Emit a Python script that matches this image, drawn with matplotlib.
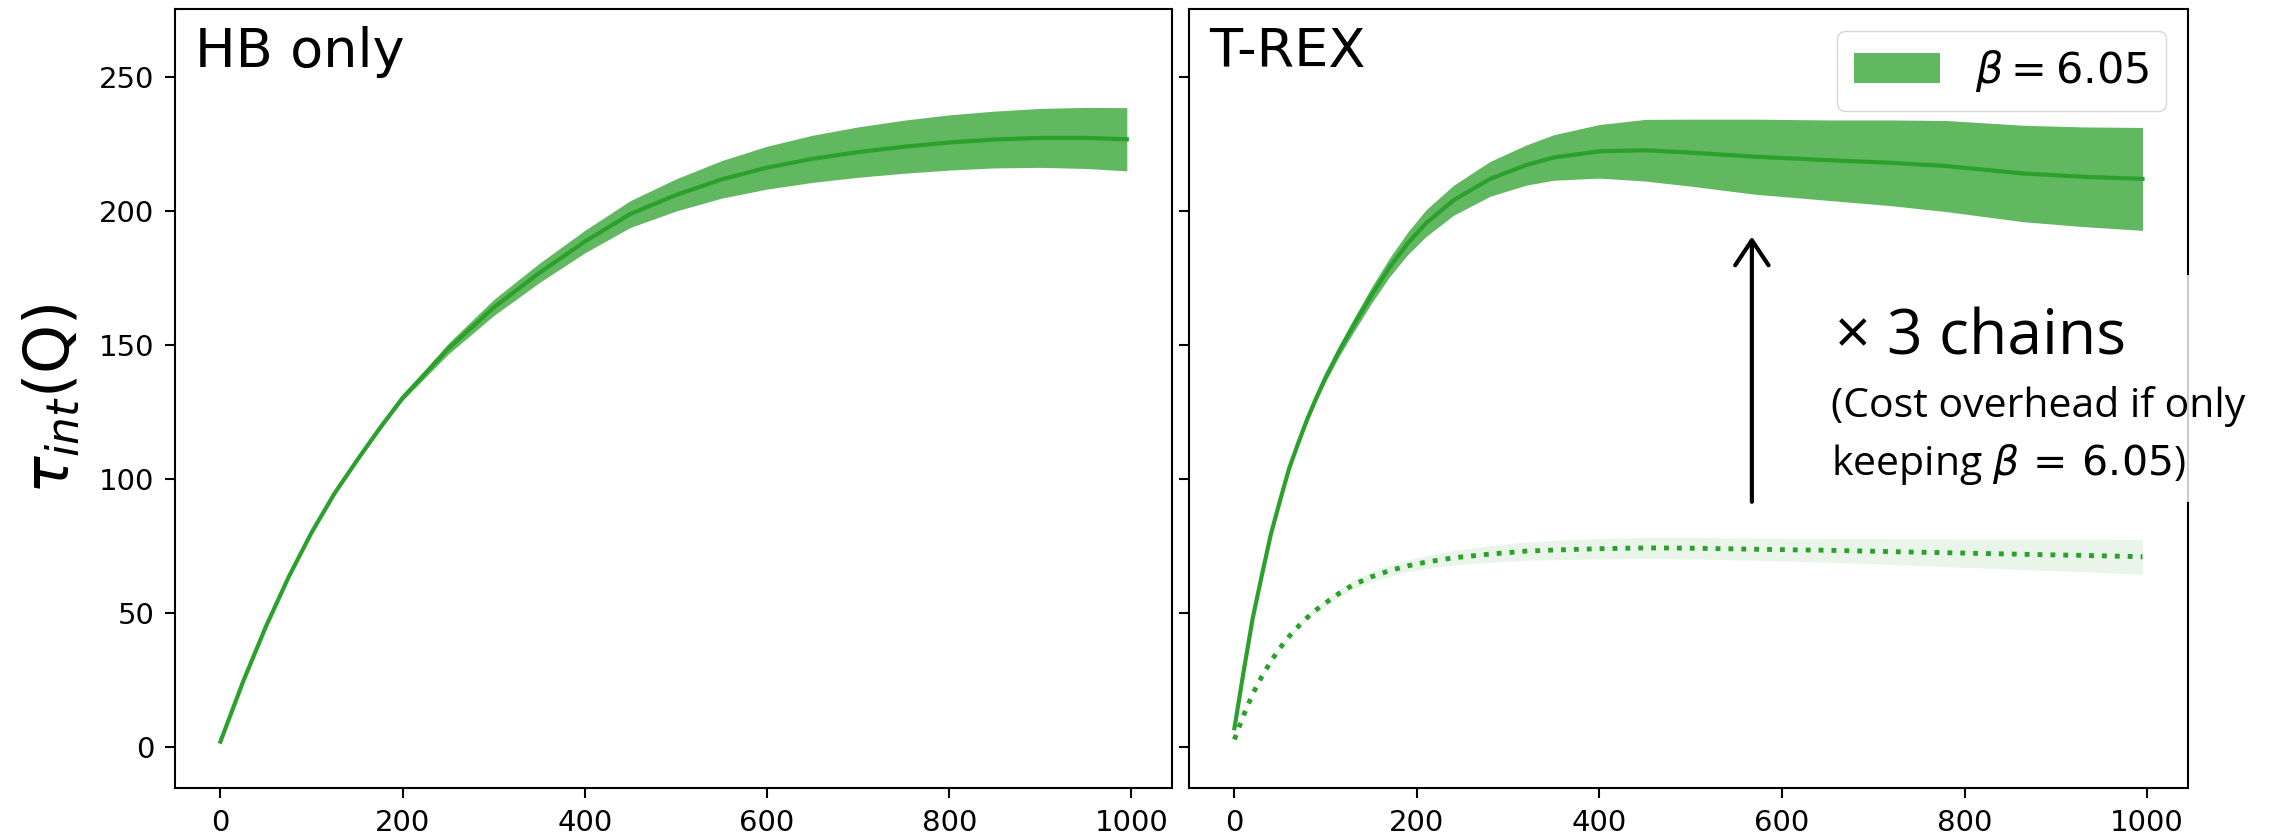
import numpy as np
import matplotlib
matplotlib.use("Agg")
import matplotlib.pyplot as plt
from matplotlib.patches import Rectangle

# HB only
hb_x = [0, 25, 50, 75, 100, 125, 150, 175, 200, 250, 300, 350, 400, 450,
        500, 550, 600, 650, 700, 750, 800, 850, 900, 950, 995]
hb_mean = [2, 24.5, 45, 63.5, 80, 94.5, 107, 119, 130.3, 148.6, 164, 176.9,
           188.6, 198.9, 206, 211.8, 216.2, 219.5, 222, 224, 225.6, 226.7,
           227.3, 227.3, 226.8]
hb_err = [0, 0.1, 0.2, 0.2, 0.3, 0.5, 0.6, 0.8, 1.0, 2.0, 3.0, 3.6, 4.2, 5.0,
          6.0, 7.0, 8.0, 8.8, 9.4, 9.9, 10.3, 10.6, 11.0, 11.4, 11.8]

# T-REX, beta = 6.05
trex_x = [0, 10, 20, 30, 40, 50, 60, 70, 80, 90, 100, 115, 130, 150, 170,
          190, 210, 240, 280, 320, 350, 400, 450, 500, 570, 650, 720, 780,
          865, 930, 995]
trex_mean = [7, 28, 48, 64, 79.5, 92, 104, 113.5, 122.5, 130.5, 138, 148, 157,
             168.5, 179, 188, 195.5, 204, 212, 217.2, 220, 222.3, 222.7,
             221.8, 220.3, 219, 218, 216.8, 214, 212.8, 212]
trex_err = [0, 0.2, 0.3, 0.4, 0.5, 0.6, 0.7, 0.9, 1.0, 1.3, 1.6, 2.0, 2.5,
            3.0, 3.5, 4.2, 5.0, 5.6, 6.5, 7.5, 8.5, 10.0, 11.5, 12.5, 14.0,
            15.0, 16.0, 17.0, 18.0, 18.6, 19.2]

# T-REX com custo de 3 cadeias
cost_mean = [2.8, 11.8, 19.8, 26.3, 32, 37, 41.3, 45, 48.4, 51.3, 53.8, 57.4,
             60.5, 63.5, 65.8, 67.6, 69, 70.6, 72, 73.1, 73.5, 74, 74.3, 74.2,
             73.8, 73.4, 72.9, 72.5, 71.9, 71.5, 71]
cost_err = [0, 0.2, 0.3, 0.4, 0.5, 0.6, 0.7, 0.8, 0.9, 1.1, 1.3, 1.5, 1.7,
            1.9, 2.1, 2.2, 2.4, 2.7, 3.1, 3.4, 3.6, 3.8, 3.9, 4.0, 4.1, 4.4,
            4.8, 5.2, 5.7, 6.1, 6.5]

panel_titles = ["HB only", "T-REX"]
legend_label = r"$\beta = 6.05$"
green = "tab:green"

fig = plt.figure(figsize=(22.8, 8.35), dpi=100)
ax1 = fig.add_axes([0.0768, 0.0563, 0.4373, 0.9329])
ax2 = fig.add_axes([0.5215, 0.0563, 0.4381, 0.9329], sharey=ax1)

hb_x = np.array(hb_x)
hb_mean = np.array(hb_mean)
hb_err = np.array(hb_err)
trex_x = np.array(trex_x)
trex_mean = np.array(trex_mean)
trex_err = np.array(trex_err)
cost_mean = np.array(cost_mean)
cost_err = np.array(cost_err)

# painel da esquerda
ax1.fill_between(hb_x, hb_mean - hb_err, hb_mean + hb_err, color=green,
                 alpha=0.75, linewidth=0)
ax1.plot(hb_x, hb_mean, color=green, lw=3)

# painel da direita
ax2.fill_between(trex_x, trex_mean - trex_err, trex_mean + trex_err,
                 color=green, alpha=0.75, linewidth=0, label=legend_label)
ax2.plot(trex_x, trex_mean, color=green, lw=3)
ax2.fill_between(trex_x, cost_mean - cost_err, cost_mean + cost_err,
                 color=green, alpha=0.1, linewidth=0)
ax2.plot(trex_x, cost_mean, color=green, lw=3.5, ls=":")

ax1.set_ylim(-15.3, 275.4)
for ax, title in zip([ax1, ax2], panel_titles):
    ax.set_xticks([0, 200, 400, 600, 800, 1000])
    ax.set_yticks([0, 50, 100, 150, 200, 250])
    ax.tick_params(labelsize=21, length=7, width=1.5, pad=8)
    for s in ax.spines.values():
        s.set_linewidth(1.5)
    ax.text(0.02, 0.978, title, transform=ax.transAxes, fontsize=39,
            ha="left", va="top")
ax2.tick_params(labelleft=False)

ax1.set_ylabel(r"$\tau_{int}$(Q)", fontsize=45, labelpad=12)

ax2.legend(loc="upper right", fontsize=31)

# seta e texto explicativo
ax2.annotate("", xy=(567, 190.5), xytext=(567, 91.5),
             arrowprops=dict(arrowstyle="->,head_length=0.6,head_width=0.4",
                             lw=3, color="black", shrinkA=0, shrinkB=0,
                             mutation_scale=30))
box = Rectangle((640, 91.4), 480, 84.6, facecolor="white", alpha=0.8,
                edgecolor="none", clip_on=False, zorder=3)
ax2.add_patch(box)
fam = ["Open Sans", "DejaVu Sans"]
ax2.text(658, 146.6, "× 3 chains", family=fam, fontsize=45, ha="left",
         va="baseline", zorder=4, clip_on=False)
ax2.text(654, 123.1, "(Cost overhead if only", family=fam, fontsize=29.5,
         ha="left", va="baseline", zorder=4, clip_on=False)
ax2.text(654, 101.5, r"keeping $\beta\,=\,6.05$)", family=fam, fontsize=29.5,
         ha="left", va="baseline", zorder=4, clip_on=False)

fig.savefig("out.png", dpi=100)
